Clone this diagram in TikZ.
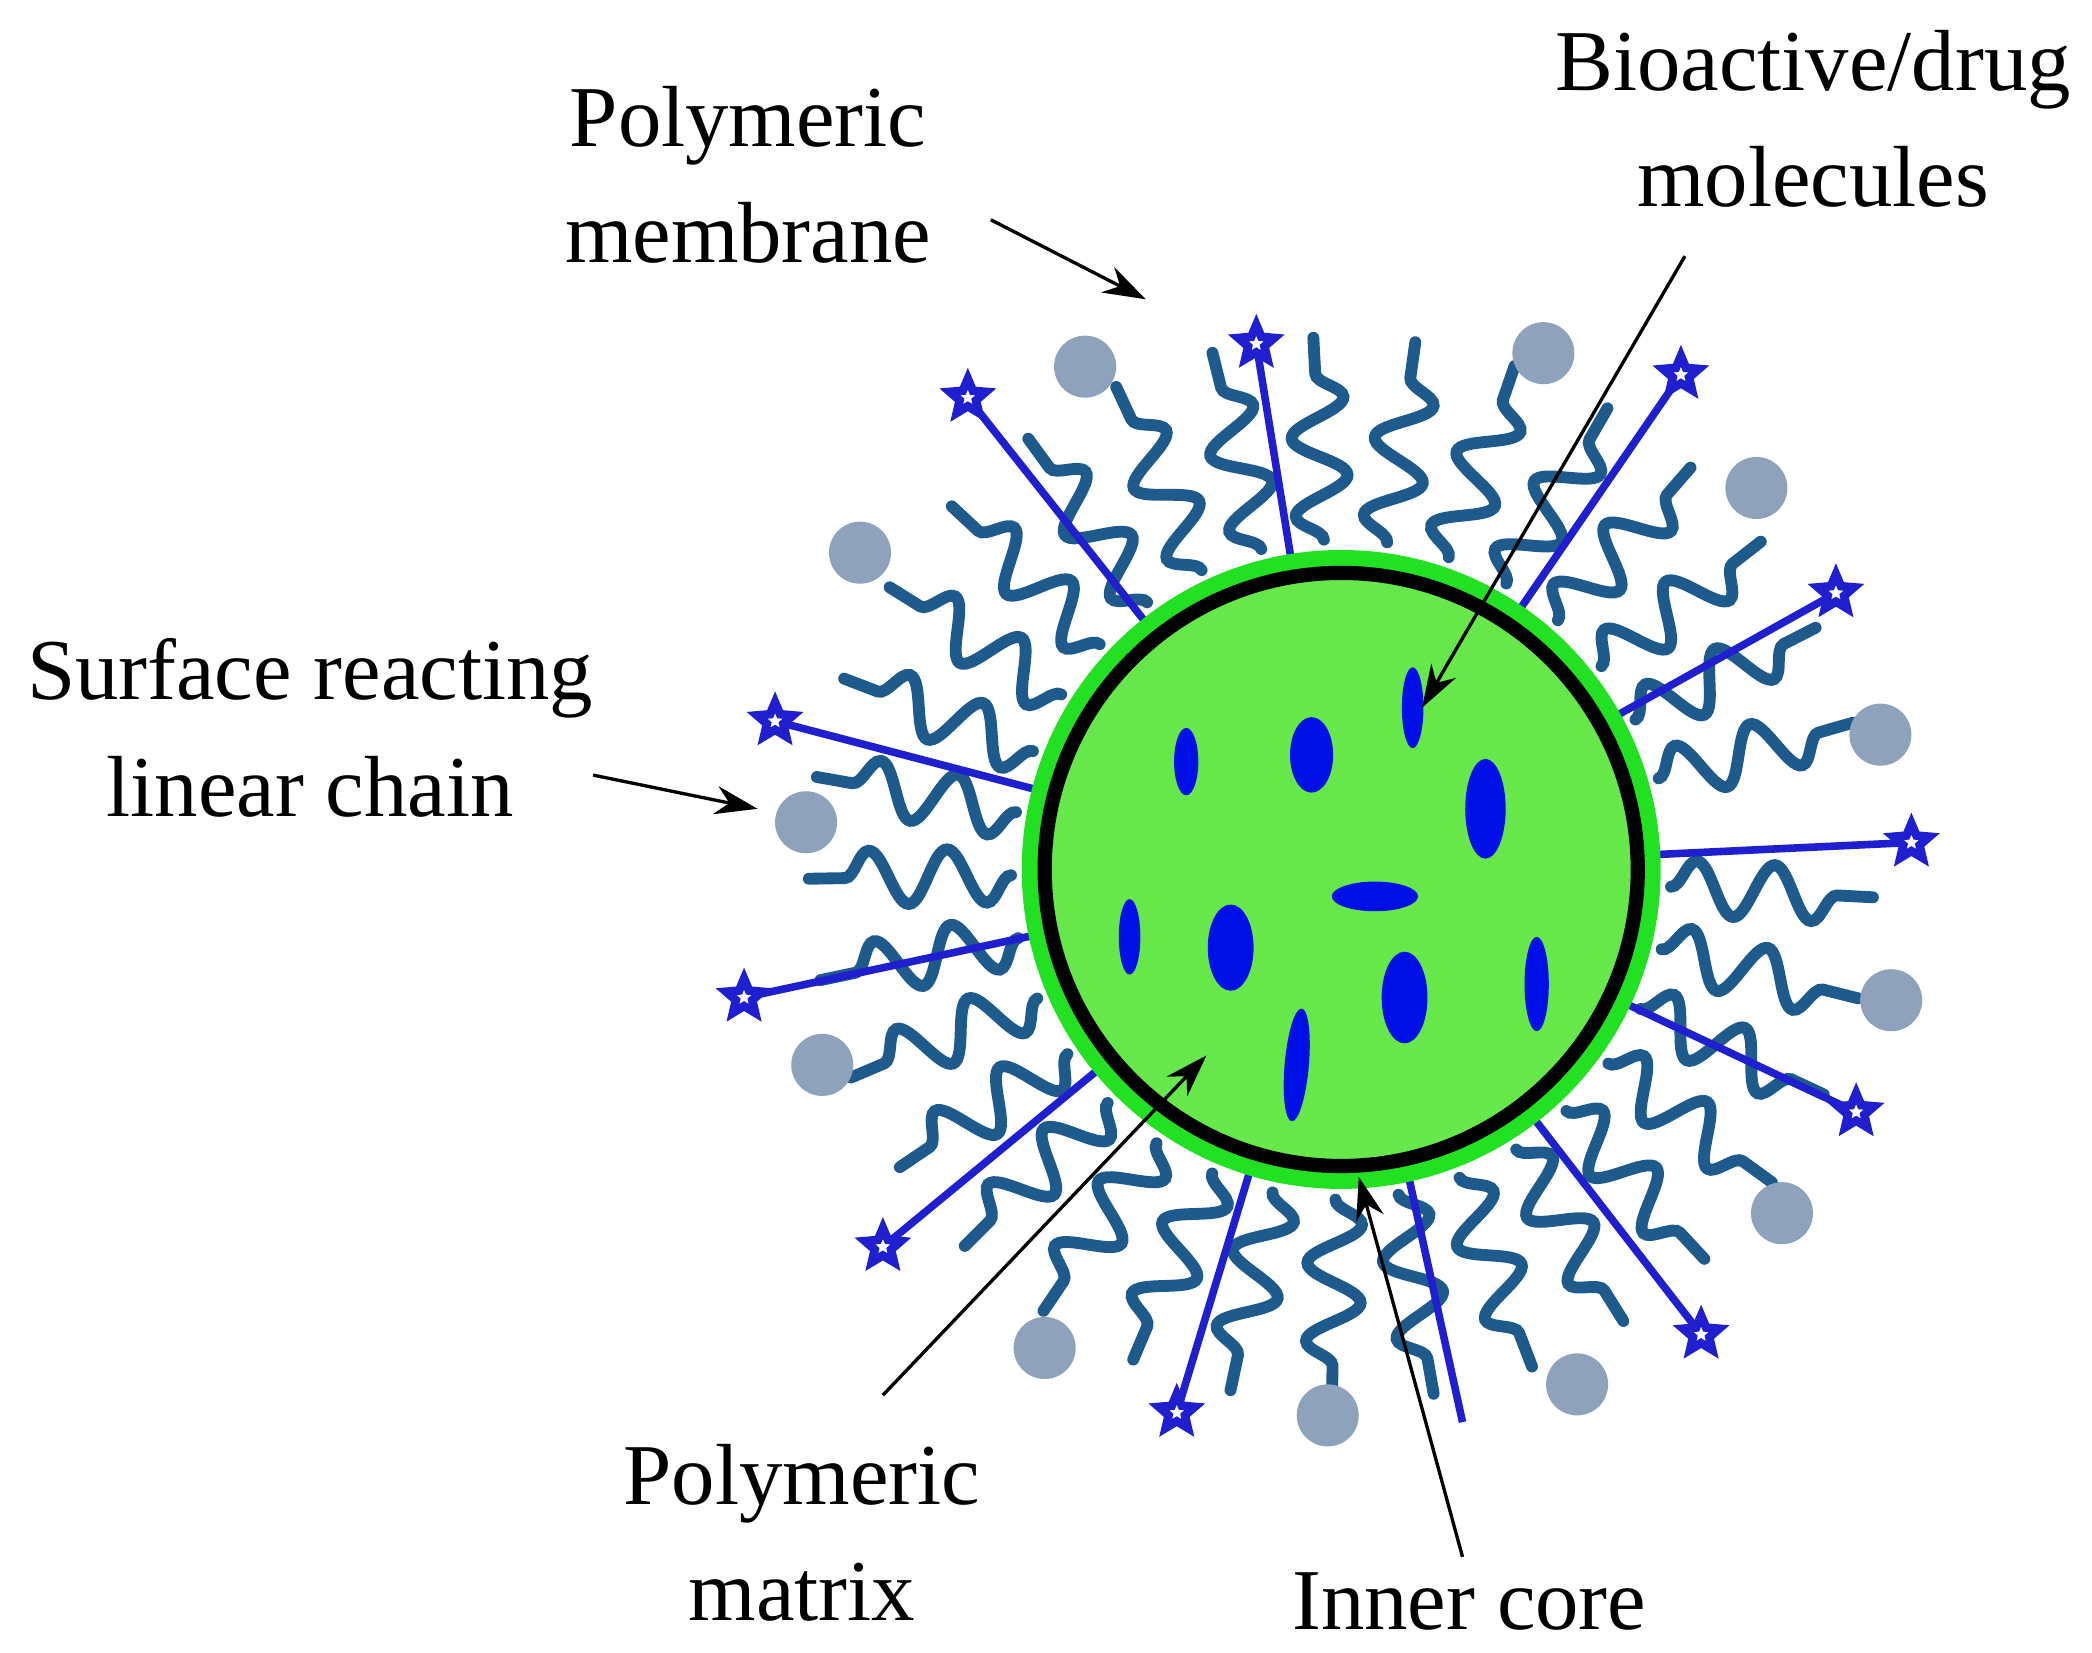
\documentclass[tikz,border=0pt]{standalone}
\usepackage{fontspec}
\setmainfont{Liberation Serif}
\usetikzlibrary{shapes.geometric,decorations.pathmorphing,arrows.meta,calc}
\definecolor{chain}{HTML}{1F5A8C}
\definecolor{lin}{HTML}{1F1FD0}
\definecolor{dotc}{HTML}{8FA2BC}
\definecolor{drug}{HTML}{0010E6}
\definecolor{halo}{HTML}{22E022}
\definecolor{core}{HTML}{66E84A}
\tikzset{
 lbl/.style={align=center,font=\fontsize{18.3}{24.5}\selectfont,inner sep=0pt},
 ptr/.style={-{Stealth[length=9pt,width=6pt]},line width=0.7pt},
 wig/.style={chain,line width=2.5pt,line cap=round,decorate,decoration={snake,amplitude=0.2cm,segment length=0.58cm}},
 linc/.style={lin,line width=1.6pt},
 starm/.style={star,star points=5,star point ratio=2.2,draw=lin,line width=1.8pt,minimum size=0.28cm,inner sep=0pt,fill=white},
 gdot/.style={circle,fill=dotc,minimum size=0.46cm,inner sep=0pt},
 drg/.style={fill=drug}
}
\begin{document}
\begin{tikzpicture}[x=0.01cm,y=-0.01cm]
\useasboundingbox[fill=white] (0,0) rectangle (1552,1226);
\coordinate (c) at (995,645);
% chains
\foreach \a in {3,14,25,36,47,58,69,80,91,102,113,124,135,146,157,168,179,190,201,212,223,234,245,256,267,278,289,300,311,322,333,344}{
  \draw[wig] ($(c)+(\a:245)$) -- ($(c)+(\a:395)$);
}
% linear chains with stars
\foreach \x/\y [count=\i] in {718/295,932/255,1247/278,1362/440,1418/625,1377/825,1262/990,873/1048,655/925,552/740,575/535}{
  \coordinate (s\i) at (\x,\y);
}
\foreach \i in {1,...,11}{
  \draw[linc] ($(c)!0.5!(s\i)$) -- (s\i);
}
\coordinate (b1) at (1085,1055);
\draw[linc] ($(c)!0.55!(b1)$) -- (b1);
% halo and core
\fill[halo] (c) circle (237);
\draw[line width=3pt,fill=core] (c) circle (220);
\foreach \i in {1,...,11}{ \node[starm] (st\i) at (s\i) {}; }
% grey dots
\foreach \x/\y [count=\i] in {805/272,1145/262,1303/362,638/410,1395/545,598/610,1403/742,610/790,1322/900,775/1000,1170/1027,985/1050}{
  \node[gdot] (g\i) at (\x,\y) {};
}
% drugs
\fill[drg] (880,565) ellipse (9 and 25);
\fill[drg] (973,560) ellipse (16 and 28);
\fill[drg] (1048,525) ellipse (8 and 30);
\fill[drg] (1102,600) ellipse (15 and 37);
\fill[drg] (1020,665) ellipse (32 and 11);
\fill[drg] (838,695) ellipse (8 and 28);
\fill[drg] (913,703) ellipse (17 and 32);
\fill[drg] (1042,740) ellipse (17 and 34);
\fill[drg] (1140,730) ellipse (9 and 35);
\fill[drg,rotate around={-5:(962,790)}] (962,790) ellipse (9 and 42);
% labels
\node[lbl] (pm) at (555,130) {Polymeric\\membrane};
\node[lbl] (bd) at (1345,88) {Bioactive/drug\\molecules};
\node[lbl] (sr) at (230,540) {Surface reacting\\linear chain};
\node[lbl] (mx) at (595,1137) {Polymeric\\matrix};
\node[lbl] (ic) at (1090,1188) {Inner core};
\coordinate (pmt) at (850,222);
\coordinate (bdt) at (1055,525);
\coordinate (srt) at (562,600);
\coordinate (mxt) at (895,783);
\coordinate (ict) at (1008,873);
\draw[ptr] (735,163) -- (pmt);
\draw[ptr] (1250,190) -- (bdt);
\draw[ptr] (440,575) -- (srt);
\draw[ptr] (655,1035) -- (mxt);
\draw[ptr] (1085,1155) -- (ict);
\end{tikzpicture}
\end{document}
